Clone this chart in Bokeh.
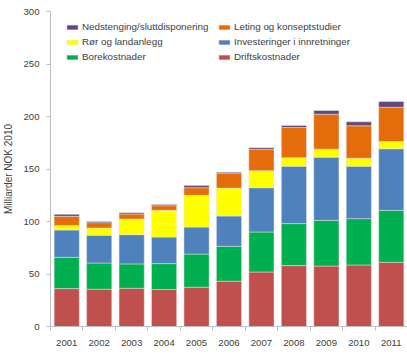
from bokeh.plotting import figure
from bokeh.models import ColumnDataSource, Legend, LegendItem, FixedTicker, Range1d
from bokeh.embed import file_html
from bokeh.resources import INLINE

years = [2001, 2002, 2003, 2004, 2005, 2006, 2007, 2008, 2009, 2010, 2011]
year_labels = ["2001", "2002", "2003", "2004", "2005", "2006", "2007", "2008", "2009", "2010", "2011"]

driftskostnader = [36.1, 35.5, 36.4, 35.2, 37.4, 43.1, 51.9, 58.0, 57.6, 58.6, 61.2]
borekostnader = [29.8, 25.0, 23.2, 24.7, 31.6, 33.3, 38.1, 40.0, 43.5, 44.1, 49.4]
investeringer = [26.0, 26.3, 27.9, 25.3, 25.7, 28.8, 42.2, 54.7, 60.2, 50.0, 58.7]
ror_landanlegg = [4.4, 7.0, 14.9, 25.4, 30.2, 26.6, 16.2, 8.0, 7.6, 7.6, 6.9]
leting = [8.6, 5.1, 4.7, 4.5, 7.3, 14.3, 20.2, 28.8, 33.3, 30.9, 32.6]
nedstenging = [1.9, 1.2, 1.3, 1.2, 2.2, 0.9, 1.6, 1.9, 3.5, 3.8, 5.5]

series_names = ["Driftskostnader", "Borekostnader", "Investeringer i innretninger",
                "Rør og landanlegg", "Leting og konseptstudier", "Nedstenging/sluttdisponering"]
series_keys = ["drift", "bore", "inv", "ror", "let", "ned"]
series_colors = ["#C0504D", "#00B050", "#4F81BD", "#FFFF00", "#E46C0A", "#604A7B"]

y_ticks = [0, 50, 100, 150, 200, 250, 300]
y_title = "Milliarder NOK 2010"

source = ColumnDataSource(dict(
    year=years,
    drift=driftskostnader,
    bore=borekostnader,
    inv=investeringer,
    ror=ror_landanlegg,
    let=leting,
    ned=nedstenging,
))

FONT = "Liberation Sans"
TEXT = "#404040"
AXIS = "#BFBFBF"

p = figure(width=407, height=355, output_backend="svg", toolbar_location=None,
           x_range=Range1d(years[0] - 0.5, years[-1] + 0.5), y_range=Range1d(0, 300),
           min_border_left=48, min_border_right=0, min_border_top=11, min_border_bottom=29)
p.outline_line_color = None
p.xgrid.visible = False
p.ygrid.visible = False
p.background_fill_color = "white"
p.border_fill_color = "white"

renderers = p.vbar_stack(series_keys, x="year", width=0.775, color=series_colors,
                         source=source, line_color="#E8E8E8", line_alpha=0.6, line_width=0.8)

# x axis: labels at centers, tick marks at category boundaries
p.xaxis.ticker = FixedTicker(ticks=years, minor_ticks=[y - 0.5 for y in years] + [years[-1] + 0.5])
p.xaxis.major_label_overrides = {y: l for y, l in zip(years, year_labels)}
p.xaxis.major_tick_line_color = None
p.xaxis.major_tick_out = 0
p.xaxis.major_tick_in = 0
p.xaxis.minor_tick_line_color = AXIS
p.xaxis.minor_tick_out = 4
p.xaxis.minor_tick_in = 0
p.xaxis.axis_line_color = AXIS
p.xaxis.major_label_standoff = 9
p.xaxis.major_label_text_font = FONT
p.xaxis.major_label_text_font_size = "9.6px"
p.xaxis.major_label_text_color = TEXT

p.yaxis.ticker = FixedTicker(ticks=y_ticks)
p.yaxis.minor_tick_line_color = None
p.yaxis.major_tick_line_color = AXIS
p.yaxis.major_tick_out = 4
p.yaxis.major_tick_in = 0
p.yaxis.axis_line_color = AXIS
p.yaxis.major_label_standoff = 7
p.yaxis.major_label_text_font = FONT
p.yaxis.major_label_text_font_size = "9.6px"
p.yaxis.major_label_text_color = TEXT
p.yaxis.axis_label = y_title
p.yaxis.axis_label_text_font = FONT
p.yaxis.axis_label_text_font_size = "10px"
p.yaxis.axis_label_text_font_style = "normal"
p.yaxis.axis_label_text_color = TEXT
p.yaxis.axis_label_standoff = 6

rmap = dict(zip(series_names, renderers))
left_col = ["Nedstenging/sluttdisponering", "Rør og landanlegg", "Borekostnader"]
right_col = ["Leting og konseptstudier", "Investeringer i innretninger", "Driftskostnader"]


def make_legend(names, x):
    lg = Legend(items=[LegendItem(label=n, renderers=[rmap[n]]) for n in names],
                location=(x, 262), orientation="vertical",
                glyph_width=14, glyph_height=6, label_standoff=3,
                label_height=15, spacing=0, padding=0, margin=0,
                border_line_color=None, background_fill_alpha=0,
                label_text_font=FONT, label_text_font_size="9.8px",
                label_text_color=TEXT)
    return lg


p.add_layout(make_legend(left_col, 15), "center")
p.add_layout(make_legend(right_col, 167), "center")

open("out.html", "w").write(file_html(p, INLINE))
